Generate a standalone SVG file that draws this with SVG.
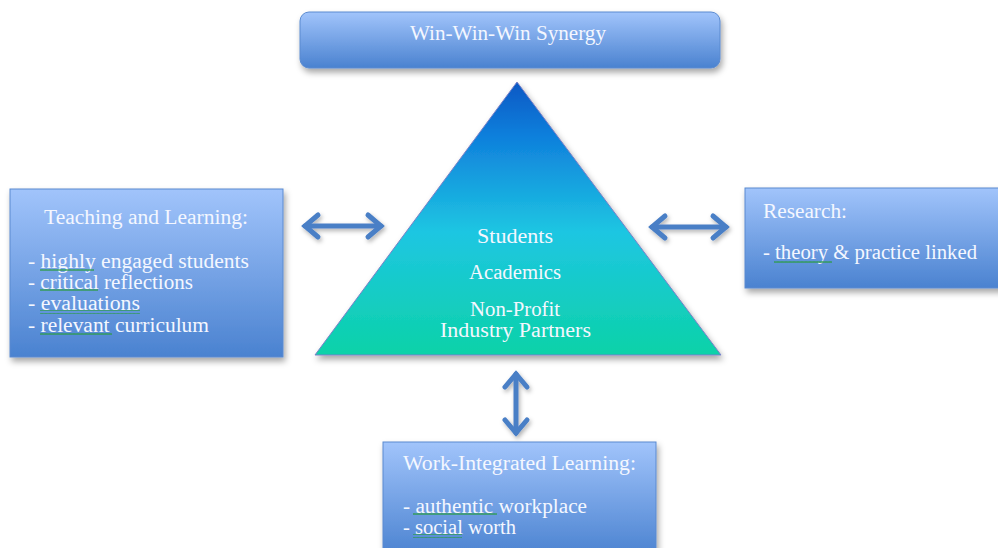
<svg xmlns="http://www.w3.org/2000/svg" width="998" height="548" viewBox="0 0 998 548">
  <defs>
    <linearGradient id="boxFill" x1="0" y1="0" x2="0" y2="1">
      <stop offset="0" stop-color="#a1c4fb"/>
      <stop offset="1" stop-color="#4a82d0"/>
    </linearGradient>
    <linearGradient id="triFill" x1="0" y1="0" x2="0" y2="1">
      <stop offset="0" stop-color="#0658c4"/>
      <stop offset="0.2" stop-color="#0f80dc"/>
      <stop offset="0.55" stop-color="#1ec6e2"/>
      <stop offset="1" stop-color="#0cd2a8"/>
    </linearGradient>
    <filter id="shadow" x="-10%" y="-10%" width="125%" height="130%">
      <feDropShadow dx="2" dy="4" stdDeviation="3" flood-color="#000" flood-opacity="0.35"/>
    </filter>
    <filter id="arrowShadow" x="-20%" y="-40%" width="140%" height="180%">
      <feDropShadow dx="1.5" dy="2.5" stdDeviation="2" flood-color="#000" flood-opacity="0.3"/>
    </filter>
    <pattern id="squiggle" x="0" y="0" width="4" height="4" patternUnits="userSpaceOnUse">
      <path d="M0 1 L1 3 L2 1 L3 3 L4 1" fill="none" stroke="#2c9a4a" stroke-width="0.8"/>
    </pattern>
  </defs>
  <style>
    .box { fill: url(#boxFill); stroke: #5a8ad0; stroke-width: 1; filter: url(#shadow); }
    .lbl { font-family: "Liberation Serif", "Times New Roman", serif; font-size: 20px; fill: #f4f7ff; }
    .mid { text-anchor: middle; }
    .conn { fill: none; stroke: #4a7fc6; stroke-width: 5; stroke-linecap: round; filter: url(#arrowShadow); }
    .sq { fill: url(#squiggle); }
  </style>

  <rect width="998" height="548" fill="#ffffff"/>

  <!-- connectors -->
  <g id="connectors">
    <g class="conn">
      <line x1="305" y1="226" x2="381" y2="226"/>
      <path d="M318 215 L305 226 L318 237"/>
      <path d="M368 215 L381 226 L368 237"/>
      <line x1="652" y1="227" x2="726" y2="227"/>
      <path d="M665 216 L652 227 L665 238"/>
      <path d="M713 216 L726 227 L713 238"/>
      <line x1="516" y1="374" x2="516" y2="433"/>
      <path d="M505 387 L516 374 L527 387"/>
      <path d="M505 420 L516 433 L527 420"/>
    </g>
  </g>

  <!-- top banner -->
  <g id="synergy">
    <rect class="box" x="300" y="12" width="420" height="56" rx="9"/>
    <text class="lbl" x="410" y="40" textLength="196" lengthAdjust="spacingAndGlyphs">Win-Win-Win Synergy</text>
  </g>

  <!-- centre triangle -->
  <g id="partners">
    <polygon points="517,82 721,355 315,355" fill="url(#triFill)" stroke="#7a80c8" stroke-width="1" filter="url(#shadow)"/>
    <text class="lbl" x="477" y="243" textLength="76" lengthAdjust="spacingAndGlyphs">Students</text>
    <text class="lbl" x="469" y="279" textLength="92" lengthAdjust="spacingAndGlyphs">Academics</text>
    <text class="lbl" x="470" y="316" textLength="90" lengthAdjust="spacingAndGlyphs">Non-Profit</text>
    <text class="lbl" x="440" y="337" textLength="151" lengthAdjust="spacingAndGlyphs">Industry Partners</text>
  </g>

  <!-- left box -->
  <g id="teaching">
    <rect class="box" x="10" y="189" width="273" height="168"/>
    <text class="lbl" x="44" y="224" textLength="204" lengthAdjust="spacingAndGlyphs">Teaching and Learning:</text>
    <text class="lbl" x="28" y="268" textLength="221" lengthAdjust="spacingAndGlyphs">- highly engaged students</text>
    <text class="lbl" x="28" y="289" textLength="165" lengthAdjust="spacingAndGlyphs">- critical reflections</text>
    <text class="lbl" x="28" y="310" textLength="112" lengthAdjust="spacingAndGlyphs">- evaluations</text>
    <text class="lbl" x="28" y="332" textLength="181" lengthAdjust="spacingAndGlyphs">- relevant curriculum</text>
    <rect class="sq" x="40" y="268" width="54" height="4"/>
    <rect class="sq" x="40" y="289" width="58" height="4"/>
    <rect class="sq" x="40" y="310" width="100" height="4"/>
    <rect class="sq" x="40" y="332" width="72" height="4"/>
  </g>

  <!-- right box -->
  <g id="research">
    <rect class="box" x="745" y="188" width="260" height="100"/>
    <text class="lbl" x="763" y="218" textLength="84" lengthAdjust="spacingAndGlyphs">Research:</text>
    <text class="lbl" x="763" y="259" textLength="214" lengthAdjust="spacingAndGlyphs">- theory &amp; practice linked</text>
    <rect class="sq" x="774" y="259" width="58" height="4"/>
  </g>

  <!-- bottom box -->
  <g id="wil">
    <rect class="box" x="383" y="442" width="273" height="115"/>
    <text class="lbl" x="403" y="470" textLength="233" lengthAdjust="spacingAndGlyphs">Work-Integrated Learning:</text>
    <text class="lbl" x="403" y="513" textLength="184" lengthAdjust="spacingAndGlyphs">- authentic workplace</text>
    <text class="lbl" x="403" y="534" textLength="113" lengthAdjust="spacingAndGlyphs">- social worth</text>
    <rect class="sq" x="413" y="513" width="84" height="4"/>
    <rect class="sq" x="413" y="534" width="49" height="4"/>
  </g>
</svg>
